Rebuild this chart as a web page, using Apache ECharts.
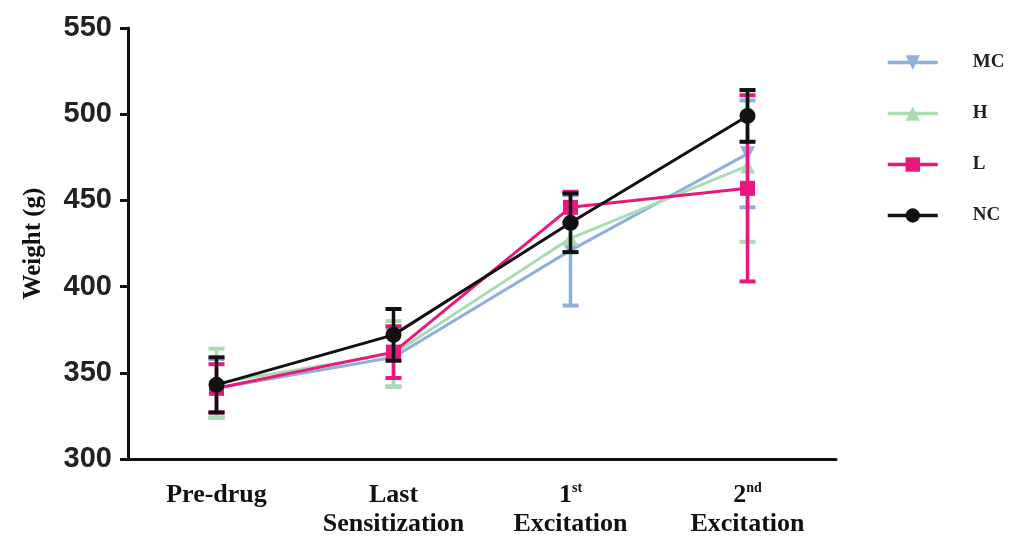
<!DOCTYPE html>
<html><head><meta charset="utf-8">
<script src="https://cdn.jsdelivr.net/npm/echarts@6/dist/echarts.min.js"></script>
<style>html,body{margin:0;padding:0;background:#fff}#c{width:1013px;height:542px}</style>
</head><body><div id="c"></div>
<script>
const categories = ['Pre-drug', 'Last Sensitization', '1st Excitation', '2nd Excitation'];
const seriesNames = ['MC', 'H', 'L', 'NC'];
const mcMean = [341, 359, 421, 477];
const mcErr  = [17, 17, 32, 31];
const hMean  = [344, 361, 428, 470];
const hErr   = [20, 19, 8, 44];
const lMean  = [341, 362, 446, 457];
const lErr   = [14, 15, 9, 54];
const ncMean = [343, 372, 437, 499];
const ncErr  = [16, 15, 17, 15];
const yTicks = [300, 350, 400, 450, 500, 550];

const colors = {MC: '#8fb0da', H: '#a9dcb2', L: '#e8187c', NC: '#111111'};
const symbols = {MC: 'triangle', H: 'triangle', L: 'rect', NC: 'circle'};
const rotates = {MC: 180, H: 0, L: 0, NC: 0};

function errSeries(name, vals, errs, z) {
  const color = colors[name];
  return {
    type: 'custom', name: name + '_err', z: z, silent: true,
    data: vals.map((v, i) => [i, v - errs[i], v + errs[i]]),
    encode: {x: 0, y: [1, 2]},
    renderItem: function (params, api) {
      const x = api.value(0);
      const lo = api.coord([x, api.value(1)]);
      const hi = api.coord([x, api.value(2)]);
      const w = 8;
      return {type: 'group', children: [
        {type: 'line', shape: {x1: lo[0], y1: lo[1], x2: hi[0], y2: hi[1]}, style: {stroke: color, lineWidth: 3.5}},
        {type: 'line', shape: {x1: lo[0] - w, y1: lo[1], x2: lo[0] + w, y2: lo[1]}, style: {stroke: color, lineWidth: 4}},
        {type: 'line', shape: {x1: hi[0] - w, y1: hi[1], x2: hi[0] + w, y2: hi[1]}, style: {stroke: color, lineWidth: 4}}
      ]};
    }
  };
}
function lineSeries(name, vals, z) {
  return {
    type: 'line', name: name, z: z, data: vals,
    symbol: symbols[name], symbolRotate: rotates[name],
    symbolSize: name === 'NC' ? 16 : 15,
    lineStyle: {color: colors[name], width: 3},
    itemStyle: {color: colors[name]}
  };
}

const means = {MC: mcMean, H: hMean, L: lMean, NC: ncMean};
const errs = {MC: mcErr, H: hErr, L: lErr, NC: ncErr};
const series = [];
seriesNames.forEach((n, k) => {
  series.push(errSeries(n, means[n], errs[n], 2 + k));
  series.push(lineSeries(n, means[n], 2 + k));
});

const chart = echarts.init(document.getElementById('c'));
chart.setOption({
  animation: false,
  grid: {left: 128, right: 177, top: 28, bottom: 83},
  legend: {
    data: seriesNames, orient: 'vertical', left: 881, top: 48,
    itemWidth: 50, itemHeight: 18, itemGap: 32,
    lineStyle: {width: 3.5},
    textStyle: {fontFamily: 'Liberation Serif', fontWeight: 'bold', fontSize: 19, color: '#222', padding: [0, 0, 0, 30]}
  },
  xAxis: {
    type: 'category', data: categories, boundaryGap: true,
    axisLine: {lineStyle: {color: '#111', width: 3}},
    axisTick: {alignWithLabel: true, length: 8, lineStyle: {color: '#111', width: 3}},
    axisLabel: {
      margin: 22, interval: 0,
      fontFamily: 'Liberation Serif', fontWeight: 'bold', fontSize: 26, color: '#111', lineHeight: 29,
      formatter: function (v) {
        if (v === categories[1]) return '{b|Last}\n{b|Sensitization}';
        if (v === categories[2]) return '{b|1}{s|st}\n{b|Excitation}';
        if (v === categories[3]) return '{b|2}{s|nd}\n{b|Excitation}';
        return '{b|' + v + '}';
      },
      rich: {
        b: {fontFamily: 'Liberation Serif', fontWeight: 'bold', fontSize: 26, color: '#111', lineHeight: 29},
        s: {fontFamily: 'Liberation Serif', fontWeight: 'bold', fontSize: 14, color: '#111', lineHeight: 29, verticalAlign: 'top'}
      }
    }
  },
  yAxis: {
    type: 'value', min: yTicks[0], max: yTicks[yTicks.length - 1], interval: 50,
    name: 'Weight (g)', nameLocation: 'middle', nameGap: 82,
    nameTextStyle: {fontFamily: 'Liberation Serif', fontWeight: 'bold', fontSize: 25, color: '#111'},
    splitLine: {show: false},
    axisLine: {show: true, lineStyle: {color: '#111', width: 3}},
    axisTick: {show: true, length: 8, lineStyle: {color: '#111', width: 3}},
    axisLabel: {margin: 16, fontFamily: 'Liberation Sans', fontWeight: 'bold', fontSize: 29, color: '#222'}
  },
  series: series
});
</script></body></html>
